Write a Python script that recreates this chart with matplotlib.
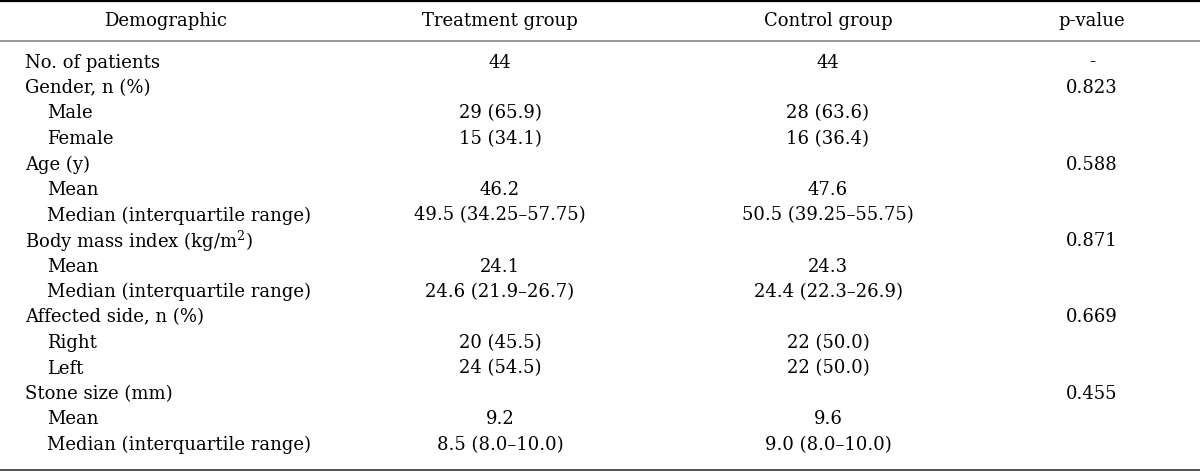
import matplotlib.pyplot as plt

plt.rcParams['font.family'] = ['DejaVu Serif']
plt.rcParams['mathtext.fontset'] = 'dejavuserif'

# table content
headers = ['Demographic', 'Treatment group', 'Control group', 'p-value']
labels = ['No. of patients', 'Gender, n (%)', 'Male', 'Female', 'Age (y)', 'Mean',
          'Median (interquartile range)', 'Body mass index (kg/m$^2$)', 'Mean',
          'Median (interquartile range)', 'Affected side, n (%)', 'Right', 'Left',
          'Stone size (mm)', 'Mean', 'Median (interquartile range)']
indent = [0, 0, 1, 1, 0, 1, 1, 0, 1, 1, 0, 1, 1, 0, 1, 1]
treatment = ['44', '', '29 (65.9)', '15 (34.1)', '', '46.2', '49.5 (34.25–57.75)', '',
             '24.1', '24.6 (21.9–26.7)', '', '20 (45.5)', '24 (54.5)', '', '9.2',
             '8.5 (8.0–10.0)']
control = ['44', '', '28 (63.6)', '16 (36.4)', '', '47.6', '50.5 (39.25–55.75)', '',
           '24.3', '24.4 (22.3–26.9)', '', '22 (50.0)', '22 (50.0)', '', '9.6',
           '9.0 (8.0–10.0)']
pvalues = ['-', '0.823', '', '', '0.588', '', '', '0.871', '', '', '0.669', '', '',
           '0.455', '', '']

W, H = 1200, 472
fig = plt.figure(figsize=(12, 4.72), dpi=100)
ax = fig.add_axes([0, 0, 1, 1])
ax.set_xlim(0, W)
ax.set_ylim(H, 0)
ax.axis('off')

fs = 13
col_x = [166, 500, 828, 1092]

# rules
ax.axhline(1.2, color='black', lw=1.6)
ax.axhline(40.5, color='#7a7a7a', lw=1.1)
ax.axhline(469.5, color='#333333', lw=1.2)

for x, h in zip(col_x, headers):
    ax.text(x, 21, h, ha='center', va='center', fontsize=fs)

y0, dy = 62.5, 25.5
for i, lab in enumerate(labels):
    y = y0 + i * dy
    ax.text(25 + 22 * indent[i], y, lab, ha='left', va='center', fontsize=fs)
    ax.text(col_x[1], y, treatment[i], ha='center', va='center', fontsize=fs)
    ax.text(col_x[2], y, control[i], ha='center', va='center', fontsize=fs)
    ax.text(col_x[3], y, pvalues[i], ha='center', va='center', fontsize=fs)

fig.savefig('out.png', dpi=100)
